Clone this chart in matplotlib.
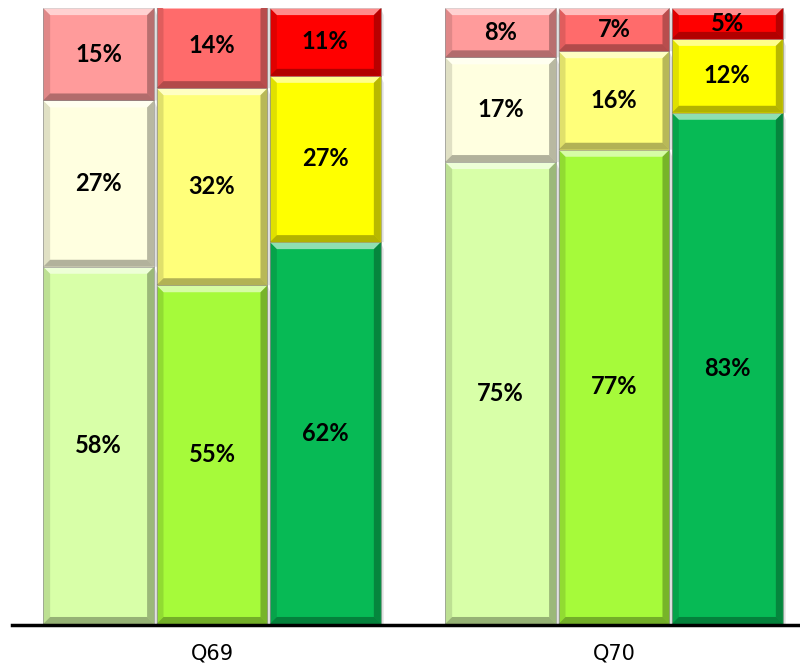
import matplotlib.pyplot as plt
from matplotlib.patches import Polygon

# Stacked shares per question, three bars each
groups = ["Q69", "Q70"]
green = [[58, 55, 62], [75, 77, 83]]
yellow = [[27, 32, 27], [17, 16, 12]]
red = [[15, 14, 11], [8, 7, 5]]

green_cols = ["#D8FFA8", "#A6FA3A", "#07BA55"]
yellow_cols = ["#FFFFE0", "#FFFF7A", "#FFFF00"]
red_cols = ["#FF9B9B", "#FF6B6B", "#FF0000"]

fig = plt.figure(figsize=(8, 6.68), dpi=100)
ax = fig.add_axes([0.015, 0.0659, 0.985, 0.922])

pitch = 0.282
width = 0.276
bevel_x = 7 / 402
bevel_y = 7 / 6.16


def bevel(rect):
    x0, y0 = rect.get_x(), rect.get_y()
    x1, y1 = x0 + rect.get_width(), y0 + rect.get_height()
    bx, by = bevel_x, min(bevel_y, rect.get_height() / 3)
    faces = [
        ([(x0, y1), (x1, y1), (x1 - bx, y1 - by), (x0 + bx, y1 - by)], "white", 0.55),
        ([(x0, y0), (x1, y0), (x1 - bx, y0 + by), (x0 + bx, y0 + by)], "black", 0.3),
        ([(x0, y0), (x0, y1), (x0 + bx, y1 - by), (x0 + bx, y0 + by)], "black", 0.12),
        ([(x1, y0), (x1, y1), (x1 - bx, y1 - by), (x1 - bx, y0 + by)], "black", 0.28),
    ]
    for pts, c, a in faces:
        ax.add_patch(Polygon(pts, closed=True, facecolor=c, alpha=a, edgecolor="none"))
    # soft shadow to the right
    ax.add_patch(Polygon([(x1, y0), (x1 + bx * 0.4, y0), (x1 + bx * 0.4, y1 - by), (x1, y1)],
                         closed=True, facecolor="#999999", alpha=0.3, edgecolor="none"))


for g in range(len(groups)):
    for i in range(3):
        x = g + (i - 1) * pitch
        segs = [(green[g][i], green_cols[i]), (yellow[g][i], yellow_cols[i]), (red[g][i], red_cols[i])]
        bottom = 0
        for val, col in segs:
            bars = ax.bar(x, val, width=width, bottom=bottom, color=col,
                          edgecolor=(0.4, 0.4, 0.4, 0.5), linewidth=0.6)
            bevel(bars[0])
            ax.text(x, bottom + val / 2, f"{val}%", ha="center", va="center",
                    fontsize=17, fontweight="bold", family="Lato", color="black")
            bottom += val

ax.set_xlim(-0.4975, 1.4627)
ax.set_ylim(0, 100)
ax.set_xticks(range(len(groups)))
ax.set_xticklabels(groups)
ax.tick_params(axis="x", length=0, pad=13, labelsize=15)
for lbl in ax.get_xticklabels():
    lbl.set_family("Lato")
ax.set_yticks([])
for s in ["top", "right", "left"]:
    ax.spines[s].set_visible(False)
ax.spines["bottom"].set_linewidth(2.5)
ax.spines["bottom"].set_position(("outward", 1))

fig.savefig("out.png", dpi=100)
